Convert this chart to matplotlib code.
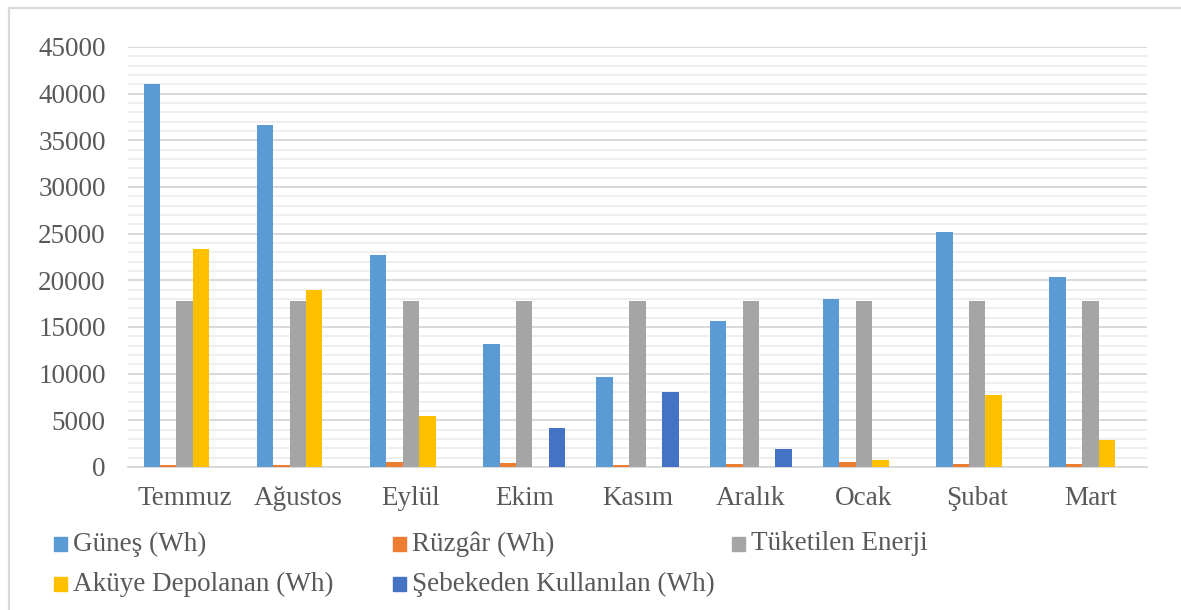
import numpy as np
import matplotlib.pyplot as plt
from matplotlib.patches import Rectangle
from matplotlib.ticker import MultipleLocator

# Aylık enerji verileri (Wh)
aylar = ['Temmuz', 'Ağustos', 'Eylül', 'Ekim', 'Kasım', 'Aralık', 'Ocak', 'Şubat', 'Mart']
gunes = [41000, 36600, 22700, 13200, 9600, 15600, 18000, 25200, 20400]
ruzgar = [200, 250, 550, 400, 250, 300, 500, 350, 300]
tuketilen = [17800, 17800, 17800, 17800, 17800, 17800, 17800, 17800, 17800]
akuye = [23400, 19000, 5500, 0, 0, 0, 700, 7700, 2900]
sebekeden = [0, 0, 0, 4200, 8000, 1900, 0, 0, 0]

seriler = [
    ('Güneş (Wh)', gunes, '#5B9BD5'),
    ('Rüzgâr (Wh)', ruzgar, '#ED7D31'),
    ('Tüketilen Enerji', tuketilen, '#A5A5A5'),
    ('Aküye Depolanan (Wh)', akuye, '#FFC000'),
    ('Şebekeden Kullanılan (Wh)', sebekeden, '#4472C4'),
]

plt.rcParams['font.family'] = ['Liberation Serif', 'DejaVu Serif']
yazi_rengi = '#595959'
yazi_boyu = 19.5

W, H = 1181, 610
fig = plt.figure(figsize=(W / 100, H / 100), dpi=100)
ax = fig.add_axes([128 / W, 1 - 467 / H, (1147 - 128) / W, (467 - 47) / H])

x = np.arange(len(aylar))
genislik = 0.145
for i, (ad, deger, renk) in enumerate(seriler):
    ax.bar(x + (i - 2) * genislik, deger, genislik, color=renk,
           edgecolor='none', zorder=3)

ax.set_xlim(-0.5, len(aylar) - 0.5)
ax.set_ylim(0, 45000)
ax.yaxis.set_major_locator(MultipleLocator(5000))
ax.yaxis.set_minor_locator(MultipleLocator(1000))
ax.grid(axis='y', which='major', color='#d9d9d9', linewidth=1.4, zorder=1)
ax.grid(axis='y', which='minor', color='#efefef', linewidth=1.4, zorder=0)
ax.set_xticks(x)
ax.set_xticklabels(aylar)
ax.tick_params(axis='both', which='both', length=0, labelsize=yazi_boyu,
               labelcolor=yazi_rengi)
ax.tick_params(axis='x', pad=14)
ax.tick_params(axis='y', pad=16)
for s in ['top', 'right', 'left']:
    ax.spines[s].set_visible(False)
ax.spines['bottom'].set_color('#d9d9d9')
ax.spines['bottom'].set_linewidth(1.4)
ax.spines['bottom'].set_zorder(2)

# Grafik çerçevesi (sol ve üst kenar)
fig.add_artist(plt.Line2D([8.5 / W, 8.5 / W], [0, 1 - 7.5 / H],
                          transform=fig.transFigure, color='#d9d9d9', lw=1.6))
fig.add_artist(plt.Line2D([8.5 / W, 1], [1 - 7.5 / H, 1 - 7.5 / H],
                          transform=fig.transFigure, color='#d9d9d9', lw=1.6))

# Lejant: 3 sütun, 2 satır
for i, (ad, deger, renk) in enumerate(seriler):
    sutun, satir = i % 3, i // 3
    px = 54 + sutun * 339
    py = 544 + satir * 40
    fig.add_artist(Rectangle((px / W, 1 - (py + 7) / H), 13 / W, 14 / H,
                             transform=fig.transFigure, color=renk))
    fig.text((px + 19) / W, 1 - py / H, ad, fontsize=yazi_boyu,
             color=yazi_rengi, va='center', ha='left')

fig.savefig('out.png', dpi=100)
